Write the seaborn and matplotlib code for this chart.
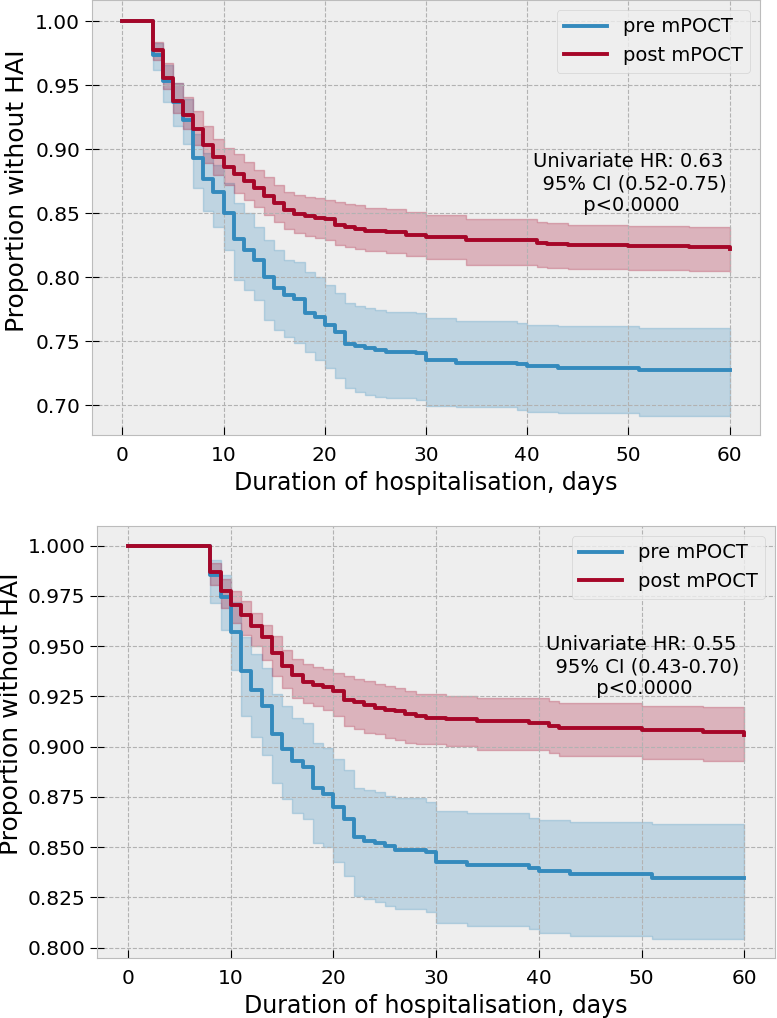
import numpy as np
import pandas as pd
import matplotlib
matplotlib.use("Agg")
import matplotlib.pyplot as plt
import matplotlib.ticker as mticker
import seaborn as sns

# ---------------- Data: panel 1 (top) ----------------
top_pre_t = [0, 3, 4, 5, 6, 7, 8, 9, 10, 11, 12, 13, 14, 15, 16, 17, 18, 19, 20,
             21, 22, 23, 24, 25, 26, 29, 30, 33, 39, 40, 43, 51, 60]
top_pre_s = [1.0, 0.9734, 0.953, 0.937, 0.923, 0.893, 0.877, 0.867, 0.8505, 0.830,
             0.8214, 0.8135, 0.800, 0.792, 0.786, 0.783, 0.772, 0.769, 0.763, 0.757,
             0.748, 0.7466, 0.745, 0.743, 0.742, 0.7406, 0.7356, 0.7333, 0.7323,
             0.731, 0.7294, 0.7276, 0.7276]
top_pre_hi = [1.0, 0.983, 0.966, 0.952, 0.939, 0.912, 0.897, 0.888, 0.874, 0.8578,
              0.850, 0.8396, 0.8292, 0.8214, 0.8135, 0.8122, 0.8044, 0.8005, 0.794,
              0.7875, 0.7797, 0.7776, 0.7758, 0.7745, 0.7732, 0.7719, 0.768, 0.766,
              0.7645, 0.7627, 0.762, 0.760, 0.760]
top_pre_lo = [1.0, 0.962, 0.937, 0.918, 0.904, 0.870, 0.852, 0.8396, 0.8214, 0.7979,
              0.790, 0.7823, 0.7667, 0.7589, 0.7536, 0.7484, 0.742, 0.7354, 0.7289,
              0.7211, 0.7133, 0.7107, 0.708, 0.7068, 0.7055, 0.7042, 0.6994, 0.6984,
              0.6963, 0.695, 0.6937, 0.6917, 0.6917]

top_post_t = [0, 3, 4, 5, 6, 7, 8, 9, 10, 11, 12, 13, 14, 15, 16, 17, 18, 19, 20,
              21, 22, 23, 24, 26, 28, 30, 34, 41, 42, 44, 50, 56, 60]
top_post_s = [1.0, 0.9778, 0.9557, 0.9378, 0.927, 0.9158, 0.903, 0.894, 0.886, 0.881,
              0.875, 0.870, 0.8638, 0.8578, 0.8528, 0.8495, 0.8475, 0.8465, 0.8453,
              0.8409, 0.839, 0.8378, 0.8365, 0.8352, 0.833, 0.8312, 0.8291, 0.827,
              0.8257, 0.825, 0.8245, 0.8234, 0.822]
top_post_hi = [1.0, 0.984, 0.967, 0.952, 0.941, 0.930, 0.918, 0.908, 0.901, 0.896,
               0.890, 0.884, 0.878, 0.872, 0.867, 0.864, 0.8625, 0.8617, 0.8604,
               0.8591, 0.8575, 0.8565, 0.8545, 0.853, 0.851, 0.849, 0.8455, 0.843,
               0.8425, 0.841, 0.840, 0.8395, 0.839]
top_post_lo = [1.0, 0.970, 0.947, 0.928, 0.916, 0.903, 0.889, 0.880, 0.872, 0.866,
               0.860, 0.855, 0.849, 0.8435, 0.838, 0.8344, 0.832, 0.8305, 0.829,
               0.8255, 0.8235, 0.822, 0.8205, 0.819, 0.8165, 0.814, 0.8096, 0.8083,
               0.807, 0.8065, 0.806, 0.805, 0.804]
top_text = "Univariate HR: 0.63\n  95% CI (0.52-0.75)\n p<0.0000"

# ---------------- Data: panel 2 (bottom) ----------------
bot_pre_t = [0, 8, 9, 10, 11, 12, 13, 14, 15, 16, 17, 18, 19, 20, 21, 22, 23, 24,
             25, 26, 29, 30, 33, 39, 40, 43, 51, 60]
bot_pre_s = [1.0, 0.9852, 0.9747, 0.957, 0.9374, 0.928, 0.920, 0.9065, 0.899, 0.893,
             0.890, 0.8793, 0.8763, 0.870, 0.864, 0.8548, 0.8531, 0.852, 0.8507,
             0.8487, 0.8474, 0.8427, 0.8409, 0.8397, 0.8381, 0.8364, 0.8348, 0.8348]
bot_pre_hi = [1.0, 0.993, 0.9855, 0.972, 0.9545, 0.946, 0.939, 0.926, 0.9202, 0.9144,
              0.9119, 0.902, 0.8995, 0.8937, 0.8884, 0.8796, 0.8785, 0.8772, 0.8755,
              0.8742, 0.8725, 0.868, 0.867, 0.8646, 0.8637, 0.8624, 0.8613, 0.8613]
bot_pre_lo = [1.0, 0.9714, 0.958, 0.938, 0.915, 0.905, 0.896, 0.882, 0.8738, 0.8672,
              0.8639, 0.852, 0.8498, 0.8424, 0.8358, 0.8255, 0.8242, 0.8225, 0.8209,
              0.8192, 0.8176, 0.8123, 0.8108, 0.8094, 0.8074, 0.8058, 0.8041, 0.8041]

bot_post_t = [0, 8, 9, 10, 11, 12, 13, 14, 15, 16, 17, 18, 19, 20, 21, 22, 23, 24,
              25, 26, 27, 28, 29, 31, 34, 39, 41, 42, 50, 56, 60]
bot_post_s = [1.0, 0.987, 0.9775, 0.9705, 0.9656, 0.960, 0.9545, 0.9465, 0.940,
              0.9358, 0.932, 0.9308, 0.9296, 0.9275, 0.9233, 0.922, 0.9209, 0.9192,
              0.9184, 0.9175, 0.9162, 0.915, 0.9142, 0.9135, 0.9126, 0.9118, 0.9104,
              0.9093, 0.9081, 0.9073, 0.906]
bot_post_hi = [1.0, 0.9912, 0.9834, 0.9775, 0.9725, 0.9665, 0.9606, 0.955, 0.9482,
               0.9435, 0.941, 0.9395, 0.9385, 0.9365, 0.935, 0.9336, 0.9325, 0.9313,
               0.930, 0.9291, 0.9275, 0.9263, 0.9263, 0.9253, 0.9242, 0.9242, 0.9225,
               0.9217, 0.9204, 0.9197, 0.9197]
bot_post_lo = [1.0, 0.9805, 0.969, 0.9614, 0.9556, 0.950, 0.9432, 0.9349, 0.9291,
               0.9242, 0.9217, 0.920, 0.918, 0.9152, 0.9103, 0.9086, 0.907, 0.9061,
               0.9045, 0.9033, 0.902, 0.9015, 0.9012, 0.9002, 0.8985, 0.8985, 0.8969,
               0.8952, 0.8939, 0.8927, 0.8927]
bot_text = "Univariate HR: 0.55\n  95% CI (0.43-0.70)\n p<0.0000"

groups = ["pre mPOCT", "post mPOCT"]
colors = {"pre mPOCT": "#348ABD", "post mPOCT": "#A60628"}

plt.style.use("bmh")
plt.rcParams["font.family"] = ["DejaVu Sans"]

fig = plt.figure(figsize=(7.77, 10.18), dpi=100)
fig.patch.set_facecolor("white")


def draw_panel(ax, series, text, ylim, yfmt, text_y, ylab_xy):
    rows = []
    for name, (t, s, hi, lo) in series.items():
        for ti, si in zip(t, s):
            rows.append({"time": ti, "surv": si, "group": name})
    df = pd.DataFrame(rows)
    for name, (t, s, hi, lo) in series.items():
        c = colors[name]
        ax.fill_between(t, lo, hi, step="post", color=c, alpha=0.25, linewidth=1.0)
        sns.lineplot(data=df[df["group"] == name], x="time", y="surv",
                     color=c, drawstyle="steps-post", linewidth=2.8,
                     ax=ax, label=name, estimator=None, sort=False)
    ax.set_xlim(-3, 63)
    ax.set_ylim(*ylim)
    ax.set_xticks([0, 10, 20, 30, 40, 50, 60])
    ax.yaxis.set_major_formatter(mticker.FormatStrFormatter(yfmt))
    ax.set_xlabel("Duration of hospitalisation, days", fontsize=17)
    ax.set_ylabel("Proportion without HAI", fontsize=18)
    ax.yaxis.set_label_coords(*ylab_xy)
    ax.tick_params(axis="x", direction="in", length=6, color="black",
                   labelsize=14.5, pad=8)
    ax.tick_params(axis="y", direction="inout", length=10, color="black",
                   labelsize=14.5)
    ax.grid(True, linestyle="--", color="#b2b2b2", linewidth=0.8)
    ax.set_facecolor("#eeeeee")
    for sp in ax.spines.values():
        sp.set_color("#bcbcbc")
    ax.legend(loc="upper right", fontsize=14, fancybox=True, handlelength=2.2)
    ax.text(50, text_y, text, ha="center", va="center", fontsize=14)


ax1 = fig.add_axes([92 / 777, 1 - 435 / 1018, 668 / 777, 435 / 1018])
draw_panel(ax1,
           {"pre mPOCT": (top_pre_t, top_pre_s, top_pre_hi, top_pre_lo),
            "post mPOCT": (top_post_t, top_post_s, top_post_hi, top_post_lo)},
           top_text, (0.6768, 1.0166), "%.2f", 0.873, (-0.0943, 0.561))

ax2 = fig.add_axes([97.3 / 777, 1 - 958 / 1018, 677.7 / 777, 432 / 1018])
draw_panel(ax2,
           {"pre mPOCT": (bot_pre_t, bot_pre_s, bot_pre_hi, bot_pre_lo),
            "post mPOCT": (bot_post_t, bot_post_s, bot_post_hi, bot_post_lo)},
           bot_text, (0.7948, 1.0098), "%.3f", 0.9397, (-0.1096, 0.565))

fig.savefig("out.png", dpi=100, facecolor="white")
